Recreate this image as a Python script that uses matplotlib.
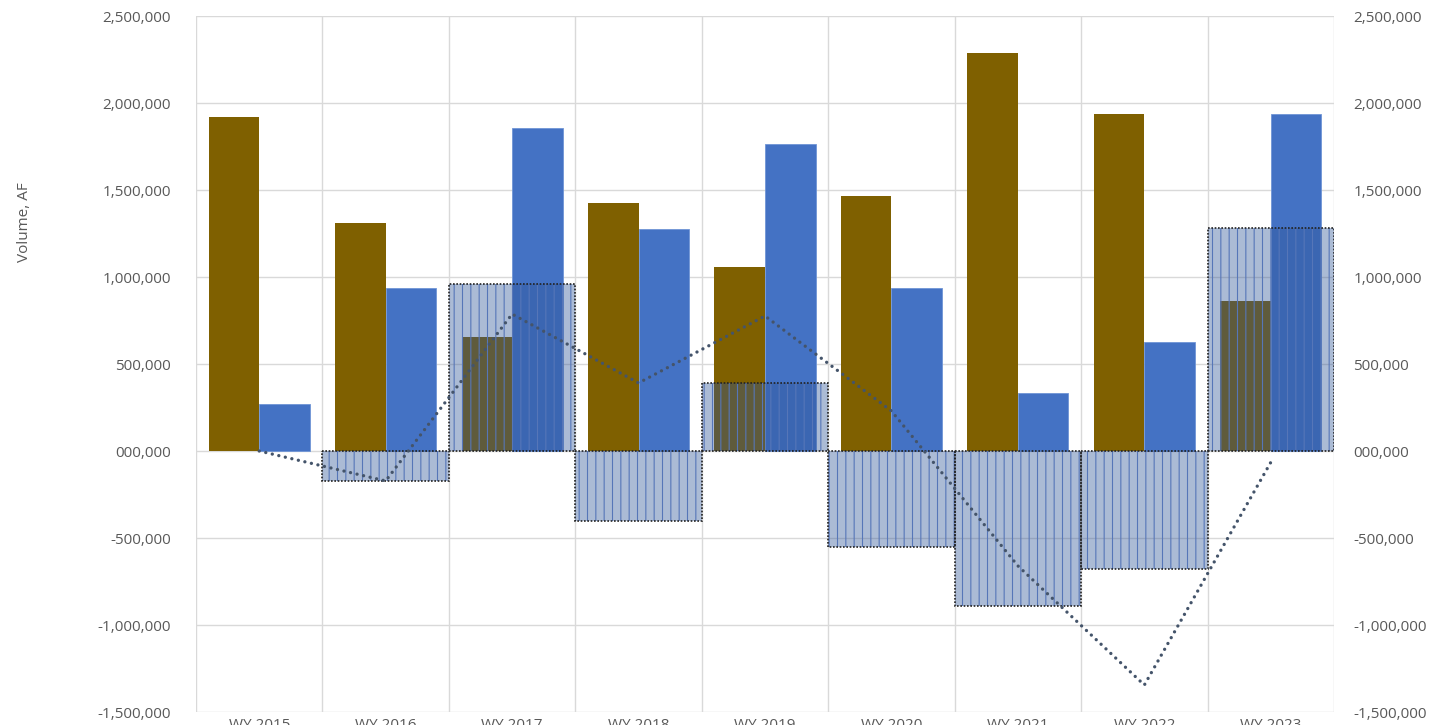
import matplotlib
matplotlib.use("Agg")
import matplotlib.pyplot as plt
from matplotlib.ticker import FuncFormatter, MultipleLocator
import numpy as np

categories = ["WY 2015", "WY 2016", "WY 2017", "WY 2018", "WY 2019",
              "WY 2020", "WY 2021", "WY 2022", "WY 2023"]
brown_vals = [1919000, 1310000, 657000, 1427000, 1057000, 1466000, 2287000, 1937000, 860000]
blue_vals = [268000, 935000, 1856000, 1276000, 1764000, 935000, 333000, 626000, 1935000]
change_vals = [0, -172000, 958000, -402000, 391000, -552000, -889000, -678000, 1282000]
cumulative_vals = [0, -172000, 787000, 391000, 776000, 230000, -660000, -1345000, -65000]

plt.rcParams['font.family'] = ['Open Sans', 'DejaVu Sans']
plt.rcParams['hatch.linewidth'] = 0.8

fig = plt.figure(figsize=(14.5, 7.25), dpi=100)
ax = fig.add_axes([196/1450, 1-712/725, (1334-196)/1450, (712-16)/725])

x = np.arange(len(categories))
grid_c = "#d9d9d9"
ax.set_axisbelow(True)
ax.bar(x - 0.2, brown_vals, width=0.4, color="#7f6000", zorder=2)
ax.bar(x + 0.2, blue_vals, width=0.4, color="#4472c4", edgecolor="#6f95d6", linewidth=0.6, zorder=2)

# hatched change bars (semi-transparent with vertical pattern)
edge_c = ["none" if v == 0 else "#222222" for v in change_vals]
ax.bar(x, change_vals, width=1.0, color=(47/255, 85/255, 151/255, 0.40),
       edgecolor="#5676b8", linewidth=0, hatch="||", zorder=3)
ax.bar(x, change_vals, width=1.0, fill=False, edgecolor=edge_c,
       linewidth=1.2, linestyle=(0, (1, 1)), zorder=4)

ax.plot(x, cumulative_vals, color="#44546a", linewidth=2.4,
        linestyle=(0, (0.01, 2.0)), dash_capstyle="round", zorder=5)

ax.set_xlim(-0.5, len(categories) - 0.5)
ax.set_ylim(-1500000, 2500000)
ax.yaxis.set_major_locator(MultipleLocator(500000))

def fmt(v, pos):
    if abs(v) < 1:
        return "000,000"
    return "{:,.0f}".format(v)

ax.yaxis.set_major_formatter(FuncFormatter(fmt))
for s in ax.spines.values():
    s.set_visible(False)
ax.grid(axis="y", color=grid_c, linewidth=1.0)
for b in np.arange(-0.5, len(categories) + 0.5, 1.0):
    ax.axvline(b, color=grid_c, linewidth=1.0, zorder=0)

ax.set_xticks(x)
ax.set_xticklabels(categories)
ax.tick_params(axis="x", length=0, pad=4, labelsize=11, colors="#595959")
ax.tick_params(axis="y", length=0, pad=18, labelsize=11, colors="#595959")

ax2 = ax.twinx()
ax2.set_ylim(ax.get_ylim())
ax2.yaxis.set_major_locator(MultipleLocator(500000))
ax2.yaxis.set_major_formatter(FuncFormatter(fmt))
for s in ax2.spines.values():
    s.set_visible(False)
ax2.tick_params(axis="y", length=0, pad=14, labelsize=11, colors="#595959")

fig.text(25/1450, 1-222/725, "Volume, AF", rotation=90, ha="center", va="center",
         fontsize=11, color="#595959")

fig.savefig("out.png", dpi=100)
